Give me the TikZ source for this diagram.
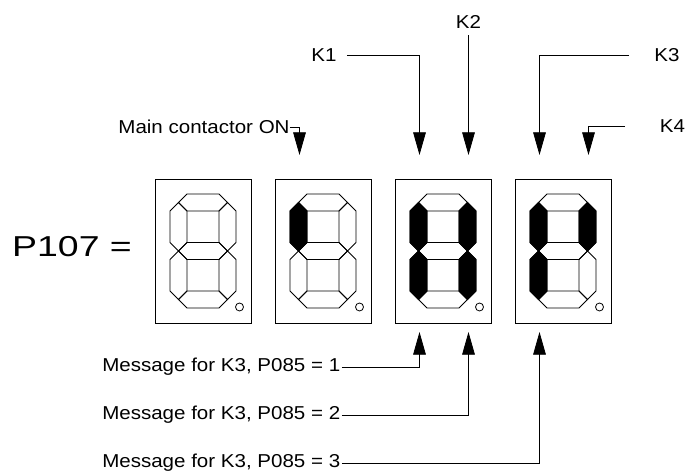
\documentclass[tikz,border=0pt]{standalone}
\usepackage{fontspec}
\setmainfont{Liberation Sans}
\newfontfamily\lblfont[FakeStretch=1.1]{Liberation Sans}
\newfontfamily\bigfont[FakeStretch=1.3]{Liberation Sans}
\usetikzlibrary{arrows.meta,calc}

% seven-segment outlines, local coordinates (box centre = origin, y down)
\newcommand{\hseg}[1]{(-24.5,#1) -- (-16,{#1-8.5}) -- (16,{#1-8.5}) -- (24.5,#1) -- (16,{#1+8.5}) -- (-16,{#1+8.5}) -- cycle}
\newcommand{\vseg}[2]{(#1,#2) -- ({#1+8.5},{#2+8.5}) -- ({#1+8.5},{#2+40}) -- (#1,{#2+48.5}) -- ({#1-8.5},{#2+40}) -- ({#1-8.5},{#2+8.5}) -- cycle}
\newcommand{\dsega}{\hseg{-48.5}}
\newcommand{\dsegb}{\vseg{24.5}{-48.5}}
\newcommand{\dsegc}{\vseg{24.5}{0}}
\newcommand{\dsegd}{\hseg{48.5}}
\newcommand{\dsege}{\vseg{-24.5}{0}}
\newcommand{\dsegf}{\vseg{-24.5}{-48.5}}
\newcommand{\dsegg}{\hseg{0}}
\newcommand{\dseg}[1]{\csname dseg#1\endcsname}

\begin{document}
\begin{tikzpicture}[
  x=0.75pt, y=-0.75pt,
  >={Triangle[length=17pt,width=9.5pt]},
  lbl/.style={font=\lblfont\fontsize{14}{16}\selectfont,inner sep=0pt},
  bigtext/.style={font=\bigfont\fontsize{21.6}{24}\selectfont,inner sep=0pt},
  digitbox/.style={draw,line width=0.7pt,minimum width=72pt,minimum height=108pt,inner sep=0pt},
  segline/.style={draw,line width=0.6pt,line join=miter},
  segon/.style={draw,fill=black,line width=0.6pt,line join=miter},
  wire/.style={line width=0.6pt},
]
\useasboundingbox (0,0) rectangle (688,473);

% ===================================================================
% Display boxes and digits
% ===================================================================
\node[bigtext] (p107) at (72,247) {P107 =};

\foreach \i in {1,...,4} {
  \node[digitbox] (box\i) at ({83+120*\i},251) {};
  \begin{scope}[shift={(box\i.center)}]
    \foreach \s in {a,b,c,d,e,f,g} { \draw[segline] \dseg{\s}; }
    \draw[segline] (36.5,56) circle[radius=4];
  \end{scope}
}

% lit segments
\foreach \i/\s in {2/f,3/b,3/c,3/e,3/f,4/b,4/e,4/f} {
  \begin{scope}[shift={(box\i.center)}]
    \draw[segon] \dseg{\s};
  \end{scope}
}

% ===================================================================
% Top labels (arrows down)
% ===================================================================
\node[lbl] (mainon) at (204,127) {Main contactor ON};
\node[lbl] (K1) at (324,55) {K1};
\node[lbl] (K2) at (468.5,22) {K2};
\node[lbl] (K3) at (667,55) {K3};
\node[lbl] (K4) at (672.5,126) {K4};

\coordinate (tipmain) at (299.5,155);
\coordinate (tipK1) at (419.5,155);
\coordinate (tipK2) at (468.5,155);
\coordinate (tipK3) at (539.5,155);
\coordinate (tipK4) at (588.5,155);

\draw[wire,->] (mainon.east) -| (tipmain);
\draw[wire,->] ([xshift=7.5pt]K1.east) -| (tipK1);
\draw[wire,->] ([yshift=-5pt]K2.south) -- (tipK2);
\draw[wire,->] ([xshift=-18.75pt]K3.west) -| (tipK3);
\draw[wire,->] ([xshift=-26pt]K4.west) -| (tipK4);

% ===================================================================
% Bottom labels (arrows up)
% ===================================================================
\foreach \n/\y in {1/367,2/415,3/463}
  \node[lbl,anchor=west] (msg\n) at (102,\y) {Message for K3, P085 = \n};

\coordinate (up1) at (419.5,332);
\coordinate (up2) at (468.5,332);
\coordinate (up3) at (539.5,332);

\foreach \n in {1,2,3}
  \draw[wire,->] ([xshift=1pt]msg\n.east) -| (up\n);

\end{tikzpicture}
\end{document}
